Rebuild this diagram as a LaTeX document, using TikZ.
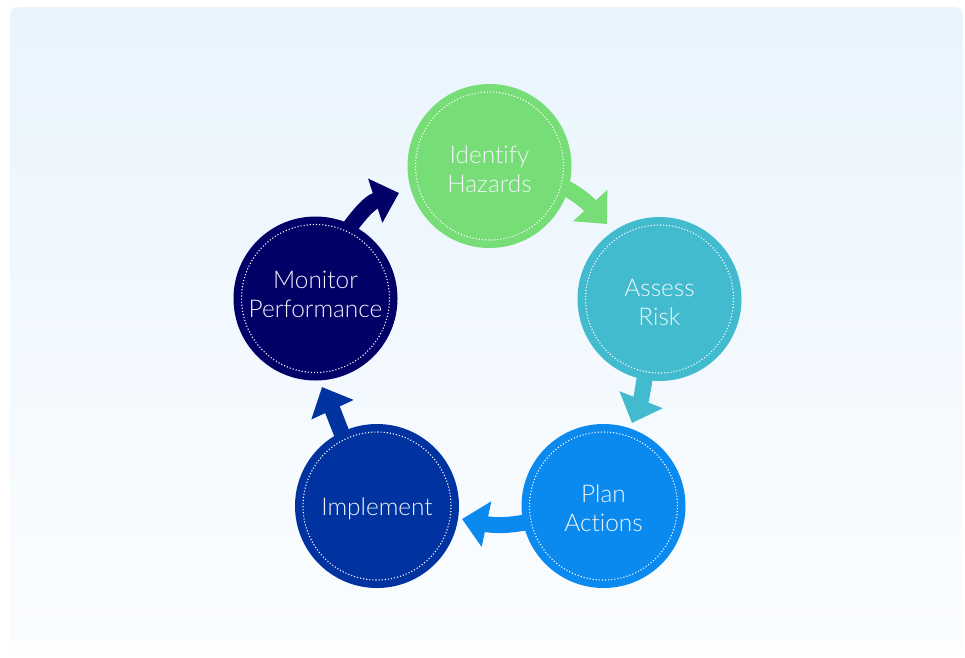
\documentclass[tikz,border=0pt]{standalone}
\usepackage{fontspec}
\setmainfont{TeX Gyre Heros}
\IfFontExistsTF{Lato Light}
  {\newfontfamily\lightfont{Lato Light}[Ligatures={NoCommon,NoRare}]\newcommand\lblsize{\fontsize{24.4}{29}\selectfont}}
  {\newfontfamily\lightfont{TeX Gyre Heros}\newcommand\lblsize{\fontsize{23.5}{29}\selectfont}}
\usetikzlibrary{arrows.meta,calc}
\pgfdeclarelayer{back}
\pgfsetlayers{back,main}
\definecolor{cgreen}{HTML}{77DD77}
\definecolor{cteal}{HTML}{42BBCE}
\definecolor{cblue}{HTML}{0A89EE}
\definecolor{croyal}{HTML}{0033A0}
\definecolor{cnavy}{HTML}{000066}
\definecolor{bgtop}{HTML}{E9F4FD}
\definecolor{bgbot}{HTML}{FBFDFF}
\definecolor{txt}{HTML}{F2F6FA}
\begin{document}
\begin{tikzpicture}[x=1pt,y=-1pt,
  stage/.style={circle, minimum size=164pt, inner sep=0pt},
  lbl/.style={text=txt, align=center, inner sep=0pt, font=\lightfont\lblsize},
  ring/.style={draw=white, dotted, line width=1.1pt},
  flow/.style={line width=16pt, -{Triangle[width=45pt,length=25pt]}}
]
\useasboundingbox (0,0) rectangle (965,657);
% stages
\node[stage, fill=cgreen, label={[lbl,yshift=-3.5pt]center:{Identify\\Hazards}}] (ide) at (489.5,166) {};
\node[stage, fill=cteal,  label={[lbl,yshift=-3.5pt]center:{Assess\\Risk}}] (ass) at (659.5,299) {};
\node[stage, fill=cblue,  label={[lbl,yshift=-2.5pt]center:{Plan\\Actions}}] (pla) at (603.5,506) {};
\node[stage, fill=croyal, label={[lbl,yshift=-2.5pt]center:{Implement}}] (imp) at (377,506) {};
\node[stage, fill=cnavy,  label={[lbl,yshift=4pt]center:{Monitor\\Performance}}] (mon) at (315.5,298.5) {};
% dotted rings
\foreach \n in {ide,ass,pla,imp,mon}
  \draw[ring] (\n.center) circle[radius=74pt];
% arrow tips
\coordinate (t1) at (399,193);
\coordinate (t2) at (607,224);
\coordinate (t3) at (632,423);
\coordinate (t4) at (462,519);
\coordinate (t5) at (322,387);
\begin{pgfonlayer}{back}
  \shade[top color=bgtop, bottom color=bgbot, rounded corners=8pt]
    (10,7) rectangle (963,655);
  \draw[flow, cnavy]  ($(mon.center)!0.7!(mon.67)$) .. controls (352,222) and (368,203) .. (t1);
  \draw[flow, cgreen] ($(ide.center)!0.7!(ide.-14)$) .. controls (568,186) and (586,201) .. (t2);
  \draw[flow, cteal]  ($(ass.center)!0.7!(ass.-102)$) .. controls (645,380) and (641,400) .. (t3);
  \draw[flow, cblue]  ($(pla.center)!0.7!(pla.191)$) .. controls (525,524) and (500,527) .. (t4);
  \draw[flow, croyal] ($(imp.center)!0.7!(imp.117)$) .. controls (341,433) and (334,413) .. (t5);
\end{pgfonlayer}
\end{tikzpicture}
\end{document}
